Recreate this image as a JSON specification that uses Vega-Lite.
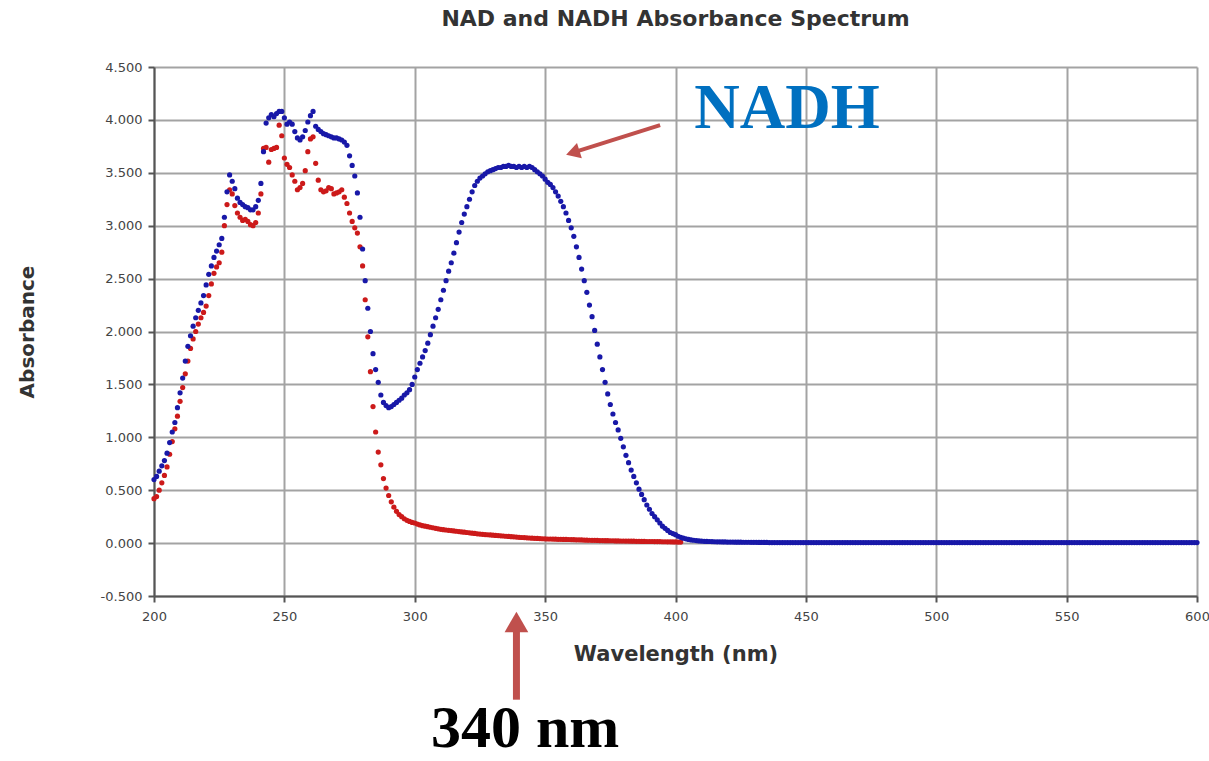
{
  "$schema": "https://vega.github.io/schema/vega-lite/v6.json",
  "width": 1043,
  "height": 529,
  "autosize": "none",
  "padding": {"left": 154, "top": 67, "right": 12, "bottom": 165},
  "background": "white",
  "title": {"text": "NAD and NADH Absorbance Spectrum", "font": "DejaVu Sans", "fontSize": 22, "fontWeight": "bold", "color": "#333333", "anchor": "middle", "offset": 30},
  "config": {"view": {"stroke": null}},
  "datasets": {
    "spectrum": [
{"nm":200,"NADH":0.60,"NAD":0.42},{"nm":201,"NADH":0.63,"NAD":0.44},{"nm":202,"NADH":0.68,"NAD":0.50},{"nm":203,"NADH":0.73,"NAD":0.57},{"nm":204,"NADH":0.78,"NAD":0.64},
{"nm":205,"NADH":0.85,"NAD":0.72},{"nm":206,"NADH":0.95,"NAD":0.84},{"nm":207,"NADH":1.05,"NAD":0.96},{"nm":208,"NADH":1.14,"NAD":1.08},{"nm":209,"NADH":1.28,"NAD":1.20},
{"nm":210,"NADH":1.42,"NAD":1.34},{"nm":211,"NADH":1.56,"NAD":1.47},{"nm":212,"NADH":1.72,"NAD":1.60},{"nm":213,"NADH":1.86,"NAD":1.72},{"nm":214,"NADH":1.96,"NAD":1.84},
{"nm":215,"NADH":2.05,"NAD":1.93},{"nm":216,"NADH":2.13,"NAD":2.00},{"nm":217,"NADH":2.20,"NAD":2.07},{"nm":218,"NADH":2.27,"NAD":2.13},{"nm":219,"NADH":2.34,"NAD":2.18},
{"nm":220,"NADH":2.44,"NAD":2.24},{"nm":221,"NADH":2.54,"NAD":2.34},{"nm":222,"NADH":2.62,"NAD":2.45},{"nm":223,"NADH":2.70,"NAD":2.55},{"nm":224,"NADH":2.76,"NAD":2.61},
{"nm":225,"NADH":2.82,"NAD":2.65},{"nm":226,"NADH":2.88,"NAD":2.75},{"nm":227,"NADH":3.08,"NAD":3.00},{"nm":228,"NADH":3.32,"NAD":3.20},{"nm":229,"NADH":3.48,"NAD":3.34},
{"nm":230,"NADH":3.42,"NAD":3.30},{"nm":231,"NADH":3.35,"NAD":3.19},{"nm":232,"NADH":3.26,"NAD":3.12},{"nm":233,"NADH":3.22,"NAD":3.08},{"nm":234,"NADH":3.20,"NAD":3.05},
{"nm":235,"NADH":3.18,"NAD":3.06},{"nm":236,"NADH":3.17,"NAD":3.04},{"nm":237,"NADH":3.15,"NAD":3.01},{"nm":238,"NADH":3.15,"NAD":3.00},{"nm":239,"NADH":3.18,"NAD":3.03},
{"nm":240,"NADH":3.24,"NAD":3.12},{"nm":241,"NADH":3.40,"NAD":3.30},{"nm":242,"NADH":3.70,"NAD":3.73},{"nm":243,"NADH":3.97,"NAD":3.74},{"nm":244,"NADH":4.02,"NAD":3.60},
{"nm":245,"NADH":4.05,"NAD":3.72},{"nm":246,"NADH":4.03,"NAD":3.73},{"nm":247,"NADH":4.06,"NAD":3.74},{"nm":248,"NADH":4.08,"NAD":3.95},{"nm":249,"NADH":4.08,"NAD":3.85},
{"nm":250,"NADH":4.02,"NAD":3.64},{"nm":251,"NADH":3.96,"NAD":3.58},{"nm":252,"NADH":3.98,"NAD":3.55},{"nm":253,"NADH":3.96,"NAD":3.48},{"nm":254,"NADH":3.89,"NAD":3.42},
{"nm":255,"NADH":3.83,"NAD":3.34},{"nm":256,"NADH":3.81,"NAD":3.36},{"nm":257,"NADH":3.84,"NAD":3.40},{"nm":258,"NADH":3.90,"NAD":3.52},{"nm":259,"NADH":3.98,"NAD":3.70},
{"nm":260,"NADH":4.04,"NAD":3.82},{"nm":261,"NADH":4.08,"NAD":3.84},{"nm":262,"NADH":3.94,"NAD":3.59},{"nm":263,"NADH":3.91,"NAD":3.43},{"nm":264,"NADH":3.89,"NAD":3.34},
{"nm":265,"NADH":3.87,"NAD":3.32},{"nm":266,"NADH":3.86,"NAD":3.33},{"nm":267,"NADH":3.85,"NAD":3.36},{"nm":268,"NADH":3.84,"NAD":3.35},{"nm":269,"NADH":3.83,"NAD":3.30},
{"nm":270,"NADH":3.83,"NAD":3.31},{"nm":271,"NADH":3.82,"NAD":3.32},{"nm":272,"NADH":3.81,"NAD":3.34},{"nm":273,"NADH":3.79,"NAD":3.27},{"nm":274,"NADH":3.76,"NAD":3.21},
{"nm":275,"NADH":3.66,"NAD":3.12},{"nm":276,"NADH":3.57,"NAD":3.04},{"nm":277,"NADH":3.47,"NAD":2.98},{"nm":278,"NADH":3.31,"NAD":2.93},{"nm":279,"NADH":3.08,"NAD":2.80},
{"nm":280,"NADH":2.78,"NAD":2.62},{"nm":281,"NADH":2.48,"NAD":2.30},{"nm":282,"NADH":2.22,"NAD":1.95},{"nm":283,"NADH":2.00,"NAD":1.62},{"nm":284,"NADH":1.79,"NAD":1.29},
{"nm":285,"NADH":1.64,"NAD":1.05},{"nm":286,"NADH":1.52,"NAD":0.86},{"nm":287,"NADH":1.40,"NAD":0.74},{"nm":288,"NADH":1.33,"NAD":0.61},{"nm":289,"NADH":1.30,"NAD":0.52},
{"nm":290,"NADH":1.28,"NAD":0.45},{"nm":291,"NADH":1.29,"NAD":0.39},{"nm":292,"NADH":1.31,"NAD":0.34},{"nm":293,"NADH":1.33,"NAD":0.30},{"nm":294,"NADH":1.35,"NAD":0.27},
{"nm":295,"NADH":1.37,"NAD":0.25},{"nm":296,"NADH":1.40,"NAD":0.23},{"nm":297,"NADH":1.42,"NAD":0.215},{"nm":298,"NADH":1.45,"NAD":0.205},{"nm":299,"NADH":1.50,"NAD":0.195},
{"nm":300,"NADH":1.57,"NAD":0.19},{"nm":301,"NADH":1.64,"NAD":0.18},{"nm":302,"NADH":1.70,"NAD":0.172},{"nm":303,"NADH":1.76,"NAD":0.165},{"nm":304,"NADH":1.82,"NAD":0.16},
{"nm":305,"NADH":1.89,"NAD":0.155},{"nm":306,"NADH":1.97,"NAD":0.15},{"nm":307,"NADH":2.05,"NAD":0.145},{"nm":308,"NADH":2.13,"NAD":0.14},{"nm":309,"NADH":2.21,"NAD":0.135},
{"nm":310,"NADH":2.30,"NAD":0.13},{"nm":311,"NADH":2.39,"NAD":0.127},{"nm":312,"NADH":2.48,"NAD":0.124},{"nm":313,"NADH":2.57,"NAD":0.121},{"nm":314,"NADH":2.65,"NAD":0.118},
{"nm":315,"NADH":2.74,"NAD":0.115},{"nm":316,"NADH":2.84,"NAD":0.112},{"nm":317,"NADH":2.94,"NAD":0.109},{"nm":318,"NADH":3.03,"NAD":0.106},{"nm":319,"NADH":3.11,"NAD":0.103},
{"nm":320,"NADH":3.18,"NAD":0.100},{"nm":321,"NADH":3.25,"NAD":0.097},{"nm":322,"NADH":3.32,"NAD":0.094},{"nm":323,"NADH":3.38,"NAD":0.091},{"nm":324,"NADH":3.42,"NAD":0.088},
{"nm":325,"NADH":3.45,"NAD":0.085},{"nm":326,"NADH":3.47,"NAD":0.083},{"nm":327,"NADH":3.49,"NAD":0.081},{"nm":328,"NADH":3.51,"NAD":0.079},{"nm":329,"NADH":3.52,"NAD":0.077},
{"nm":330,"NADH":3.53,"NAD":0.075},{"nm":331,"NADH":3.54,"NAD":0.073},{"nm":332,"NADH":3.55,"NAD":0.071},{"nm":333,"NADH":3.55,"NAD":0.069},{"nm":334,"NADH":3.56,"NAD":0.067},
{"nm":335,"NADH":3.56,"NAD":0.065},{"nm":336,"NADH":3.57,"NAD":0.063},{"nm":337,"NADH":3.56,"NAD":0.061},{"nm":338,"NADH":3.56,"NAD":0.059},{"nm":339,"NADH":3.55,"NAD":0.057},
{"nm":340,"NADH":3.56,"NAD":0.055},{"nm":341,"NADH":3.55,"NAD":0.053},{"nm":342,"NADH":3.56,"NAD":0.052},{"nm":343,"NADH":3.55,"NAD":0.050},{"nm":344,"NADH":3.56,"NAD":0.048},
{"nm":345,"NADH":3.55,"NAD":0.047},{"nm":346,"NADH":3.53,"NAD":0.045},{"nm":347,"NADH":3.51,"NAD":0.044},{"nm":348,"NADH":3.49,"NAD":0.043},{"nm":349,"NADH":3.47,"NAD":0.041},
{"nm":350,"NADH":3.44,"NAD":0.040},{"nm":351,"NADH":3.41,"NAD":0.039},{"nm":352,"NADH":3.39,"NAD":0.039},{"nm":353,"NADH":3.36,"NAD":0.038},{"nm":354,"NADH":3.32,"NAD":0.037},
{"nm":355,"NADH":3.28,"NAD":0.036},{"nm":356,"NADH":3.23,"NAD":0.036},{"nm":357,"NADH":3.18,"NAD":0.035},{"nm":358,"NADH":3.12,"NAD":0.035},{"nm":359,"NADH":3.05,"NAD":0.034},
{"nm":360,"NADH":2.98,"NAD":0.033},{"nm":361,"NADH":2.90,"NAD":0.032},{"nm":362,"NADH":2.80,"NAD":0.031},{"nm":363,"NADH":2.70,"NAD":0.031},{"nm":364,"NADH":2.59,"NAD":0.030},
{"nm":365,"NADH":2.48,"NAD":0.029},{"nm":366,"NADH":2.37,"NAD":0.028},{"nm":367,"NADH":2.25,"NAD":0.027},{"nm":368,"NADH":2.14,"NAD":0.026},{"nm":369,"NADH":2.01,"NAD":0.026},
{"nm":370,"NADH":1.88,"NAD":0.025},{"nm":371,"NADH":1.76,"NAD":0.024},{"nm":372,"NADH":1.64,"NAD":0.024},{"nm":373,"NADH":1.52,"NAD":0.023},{"nm":374,"NADH":1.41,"NAD":0.023},
{"nm":375,"NADH":1.31,"NAD":0.022},{"nm":376,"NADH":1.22,"NAD":0.022},{"nm":377,"NADH":1.14,"NAD":0.021},{"nm":378,"NADH":1.07,"NAD":0.021},{"nm":379,"NADH":0.99,"NAD":0.020},
{"nm":380,"NADH":0.91,"NAD":0.020},{"nm":381,"NADH":0.83,"NAD":0.019},{"nm":382,"NADH":0.76,"NAD":0.019},{"nm":383,"NADH":0.69,"NAD":0.018},{"nm":384,"NADH":0.63,"NAD":0.018},
{"nm":385,"NADH":0.57,"NAD":0.017},{"nm":386,"NADH":0.51,"NAD":0.017},{"nm":387,"NADH":0.46,"NAD":0.016},{"nm":388,"NADH":0.41,"NAD":0.016},{"nm":389,"NADH":0.36,"NAD":0.015},
{"nm":390,"NADH":0.32,"NAD":0.015},{"nm":391,"NADH":0.28,"NAD":0.015},{"nm":392,"NADH":0.25,"NAD":0.014},{"nm":393,"NADH":0.22,"NAD":0.014},{"nm":394,"NADH":0.19,"NAD":0.014},
{"nm":395,"NADH":0.16,"NAD":0.013},{"nm":396,"NADH":0.14,"NAD":0.013},{"nm":397,"NADH":0.12,"NAD":0.012},{"nm":398,"NADH":0.10,"NAD":0.012},{"nm":399,"NADH":0.09,"NAD":0.011},
{"nm":400,"NADH":0.08,"NAD":0.011},{"nm":401,"NADH":0.065,"NAD":0.010},{"nm":402,"NADH":0.055,"NAD":0.010},{"nm":403,"NADH":0.047},{"nm":404,"NADH":0.040},
{"nm":405,"NADH":0.035},{"nm":406,"NADH":0.030},{"nm":407,"NADH":0.027},{"nm":408,"NADH":0.024},{"nm":409,"NADH":0.021},
{"nm":410,"NADH":0.019},{"nm":411,"NADH":0.017},{"nm":412,"NADH":0.016},{"nm":413,"NADH":0.015},{"nm":414,"NADH":0.014},
{"nm":415,"NADH":0.013},{"nm":416,"NADH":0.012},{"nm":417,"NADH":0.012},{"nm":418,"NADH":0.011},{"nm":419,"NADH":0.011},
{"nm":420,"NADH":0.010},{"nm":421,"NADH":0.010},{"nm":422,"NADH":0.010},{"nm":423,"NADH":0.009},{"nm":424,"NADH":0.009},
{"nm":425,"NADH":0.009},{"nm":426,"NADH":0.008},{"nm":427,"NADH":0.008},{"nm":428,"NADH":0.008},{"nm":429,"NADH":0.007},
{"nm":430,"NADH":0.007},{"nm":431,"NADH":0.007},{"nm":432,"NADH":0.006},{"nm":433,"NADH":0.006},{"nm":434,"NADH":0.006},
{"nm":435,"NADH":0.006},{"nm":436,"NADH":0.005},{"nm":437,"NADH":0.005},{"nm":438,"NADH":0.005},{"nm":439,"NADH":0.005},
{"nm":440,"NADH":0.005},{"nm":441,"NADH":0.005},{"nm":442,"NADH":0.005},{"nm":443,"NADH":0.005},{"nm":444,"NADH":0.005},
{"nm":445,"NADH":0.005},{"nm":446,"NADH":0.005},{"nm":447,"NADH":0.005},{"nm":448,"NADH":0.005},{"nm":449,"NADH":0.005},
{"nm":450,"NADH":0.005},{"nm":451,"NADH":0.005},{"nm":452,"NADH":0.005},{"nm":453,"NADH":0.005},{"nm":454,"NADH":0.005},
{"nm":455,"NADH":0.005},{"nm":456,"NADH":0.005},{"nm":457,"NADH":0.005},{"nm":458,"NADH":0.005},{"nm":459,"NADH":0.005},
{"nm":460,"NADH":0.005},{"nm":461,"NADH":0.005},{"nm":462,"NADH":0.005},{"nm":463,"NADH":0.005},{"nm":464,"NADH":0.005},
{"nm":465,"NADH":0.005},{"nm":466,"NADH":0.005},{"nm":467,"NADH":0.005},{"nm":468,"NADH":0.005},{"nm":469,"NADH":0.005},
{"nm":470,"NADH":0.005},{"nm":471,"NADH":0.005},{"nm":472,"NADH":0.005},{"nm":473,"NADH":0.005},{"nm":474,"NADH":0.005},
{"nm":475,"NADH":0.005},{"nm":476,"NADH":0.005},{"nm":477,"NADH":0.005},{"nm":478,"NADH":0.005},{"nm":479,"NADH":0.005},
{"nm":480,"NADH":0.005},{"nm":481,"NADH":0.005},{"nm":482,"NADH":0.005},{"nm":483,"NADH":0.005},{"nm":484,"NADH":0.005},
{"nm":485,"NADH":0.005},{"nm":486,"NADH":0.005},{"nm":487,"NADH":0.005},{"nm":488,"NADH":0.005},{"nm":489,"NADH":0.005},
{"nm":490,"NADH":0.005},{"nm":491,"NADH":0.005},{"nm":492,"NADH":0.005},{"nm":493,"NADH":0.005},{"nm":494,"NADH":0.005},
{"nm":495,"NADH":0.005},{"nm":496,"NADH":0.005},{"nm":497,"NADH":0.005},{"nm":498,"NADH":0.005},{"nm":499,"NADH":0.005},
{"nm":500,"NADH":0.005},{"nm":501,"NADH":0.005},{"nm":502,"NADH":0.005},{"nm":503,"NADH":0.005},{"nm":504,"NADH":0.005},
{"nm":505,"NADH":0.005},{"nm":506,"NADH":0.005},{"nm":507,"NADH":0.005},{"nm":508,"NADH":0.005},{"nm":509,"NADH":0.005},
{"nm":510,"NADH":0.005},{"nm":511,"NADH":0.005},{"nm":512,"NADH":0.005},{"nm":513,"NADH":0.005},{"nm":514,"NADH":0.005},
{"nm":515,"NADH":0.005},{"nm":516,"NADH":0.005},{"nm":517,"NADH":0.005},{"nm":518,"NADH":0.005},{"nm":519,"NADH":0.005},
{"nm":520,"NADH":0.005},{"nm":521,"NADH":0.005},{"nm":522,"NADH":0.005},{"nm":523,"NADH":0.005},{"nm":524,"NADH":0.005},
{"nm":525,"NADH":0.005},{"nm":526,"NADH":0.005},{"nm":527,"NADH":0.005},{"nm":528,"NADH":0.005},{"nm":529,"NADH":0.005},
{"nm":530,"NADH":0.005},{"nm":531,"NADH":0.005},{"nm":532,"NADH":0.005},{"nm":533,"NADH":0.005},{"nm":534,"NADH":0.005},
{"nm":535,"NADH":0.005},{"nm":536,"NADH":0.005},{"nm":537,"NADH":0.005},{"nm":538,"NADH":0.005},{"nm":539,"NADH":0.005},
{"nm":540,"NADH":0.005},{"nm":541,"NADH":0.005},{"nm":542,"NADH":0.005},{"nm":543,"NADH":0.005},{"nm":544,"NADH":0.005},
{"nm":545,"NADH":0.005},{"nm":546,"NADH":0.005},{"nm":547,"NADH":0.005},{"nm":548,"NADH":0.005},{"nm":549,"NADH":0.005},
{"nm":550,"NADH":0.005},{"nm":551,"NADH":0.005},{"nm":552,"NADH":0.005},{"nm":553,"NADH":0.005},{"nm":554,"NADH":0.005},
{"nm":555,"NADH":0.005},{"nm":556,"NADH":0.005},{"nm":557,"NADH":0.005},{"nm":558,"NADH":0.005},{"nm":559,"NADH":0.005},
{"nm":560,"NADH":0.005},{"nm":561,"NADH":0.005},{"nm":562,"NADH":0.005},{"nm":563,"NADH":0.005},{"nm":564,"NADH":0.005},
{"nm":565,"NADH":0.005},{"nm":566,"NADH":0.005},{"nm":567,"NADH":0.005},{"nm":568,"NADH":0.005},{"nm":569,"NADH":0.005},
{"nm":570,"NADH":0.005},{"nm":571,"NADH":0.005},{"nm":572,"NADH":0.005},{"nm":573,"NADH":0.005},{"nm":574,"NADH":0.005},
{"nm":575,"NADH":0.005},{"nm":576,"NADH":0.005},{"nm":577,"NADH":0.005},{"nm":578,"NADH":0.005},{"nm":579,"NADH":0.005},
{"nm":580,"NADH":0.005},{"nm":581,"NADH":0.005},{"nm":582,"NADH":0.005},{"nm":583,"NADH":0.005},{"nm":584,"NADH":0.005},
{"nm":585,"NADH":0.005},{"nm":586,"NADH":0.005},{"nm":587,"NADH":0.005},{"nm":588,"NADH":0.005},{"nm":589,"NADH":0.005},
{"nm":590,"NADH":0.005},{"nm":591,"NADH":0.005},{"nm":592,"NADH":0.005},{"nm":593,"NADH":0.005},{"nm":594,"NADH":0.005},
{"nm":595,"NADH":0.005},{"nm":596,"NADH":0.005},{"nm":597,"NADH":0.005},{"nm":598,"NADH":0.005},{"nm":599,"NADH":0.005},
{"nm":600,"NADH":0.005}
    ],
    "arrows": [
      {"x1": 394.1, "y1": 3.95, "x2": 360.6, "y2": 3.69, "w": 4},
      {"x1": 339, "y1": -1.48, "x2": 339, "y2": -0.78, "w": 7}
    ],
    "heads": [
      {"nm": 360.6, "y": 3.69, "angle": 252.5, "s": 260},
      {"nm": 339, "y": -0.745, "angle": 0, "s": 560}
    ]
  },
  "encoding": {
    "x": {
      "type": "quantitative",
      "scale": {"domain": [200, 600], "nice": false, "zero": false},
      "axis": {
        "title": "Wavelength (nm)",
        "values": [200, 250, 300, 350, 400, 450, 500, 550, 600],
        "labelFlush": false,
        "grid": true, "gridColor": "#a3a3a3", "gridWidth": 2,
        "domainColor": "#555555", "domainWidth": 2,
        "tickColor": "#555555", "tickSize": 6, "tickWidth": 2,
        "labelFont": "DejaVu Sans", "labelFontSize": 13, "labelColor": "#444444", "labelPadding": 8,
        "titleFont": "DejaVu Sans", "titleFontSize": 21, "titleFontWeight": "bold", "titleColor": "#333333", "titlePadding": 20
      }
    },
    "y": {
      "type": "quantitative",
      "scale": {"domain": [-0.5, 4.5], "nice": false, "zero": false},
      "axis": {
        "title": "Absorbance",
        "values": [-0.5, 0, 0.5, 1, 1.5, 2, 2.5, 3, 3.5, 4, 4.5],
        "labelExpr": "(datum.value < 0 ? '-' : '') + format(abs(datum.value), '.3f')",
        "labelFlush": false,
        "grid": true, "gridColor": "#a3a3a3", "gridWidth": 2,
        "domainColor": "#555555", "domainWidth": 2,
        "tickColor": "#555555", "tickSize": 6, "tickWidth": 2,
        "labelFont": "DejaVu Sans", "labelFontSize": 13, "labelColor": "#444444", "labelPadding": 6,
        "titleFont": "DejaVu Sans", "titleFontSize": 20, "titleFontWeight": "bold", "titleColor": "#333333", "titlePadding": 63
      }
    }
  },
  "layer": [
    {
      "data": {"name": "spectrum"},
      "transform": [{"filter": "isValid(datum.NAD)"}],
      "mark": {"type": "point", "filled": true, "size": 27, "opacity": 1, "color": "#cc1a1a"},
      "encoding": {"x": {"field": "nm"}, "y": {"field": "NAD"}}
    },
    {
      "data": {"name": "spectrum"},
      "mark": {"type": "point", "filled": true, "size": 27, "opacity": 1, "color": "#1818a8"},
      "encoding": {"x": {"field": "nm"}, "y": {"field": "NADH"}}
    },
    {
      "data": {"name": "arrows"},
      "mark": {"type": "rule", "color": "#c0504d", "clip": false},
      "encoding": {
        "x": {"field": "x1"}, "y": {"field": "y1"}, "x2": {"field": "x2"}, "y2": {"field": "y2"},
        "strokeWidth": {"field": "w", "type": "quantitative", "scale": null}
      }
    },
    {
      "data": {"name": "heads"},
      "mark": {"type": "point", "shape": "triangle-up", "filled": true, "opacity": 1, "color": "#c0504d", "clip": false},
      "encoding": {
        "x": {"field": "nm"}, "y": {"field": "y"},
        "angle": {"field": "angle", "type": "quantitative", "scale": null},
        "size": {"field": "s", "type": "quantitative", "scale": null}
      }
    },
    {
      "data": {"values": [{"nm": 442.8, "y": 3.92, "label": "NADH"}]},
      "mark": {"type": "text", "font": "Liberation Serif", "fontSize": 63, "fontWeight": "bold", "color": "#0070c0", "align": "center", "baseline": "alphabetic", "clip": false},
      "encoding": {"x": {"field": "nm"}, "y": {"field": "y"}, "text": {"field": "label"}}
    },
    {
      "data": {"values": [{"nm": 342.3, "y": -1.93, "label": "340 nm"}]},
      "mark": {"type": "text", "font": "Liberation Serif", "fontSize": 60, "fontWeight": "bold", "color": "#000000", "align": "center", "baseline": "alphabetic", "clip": false},
      "encoding": {"x": {"field": "nm"}, "y": {"field": "y"}, "text": {"field": "label"}}
    }
  ]
}
